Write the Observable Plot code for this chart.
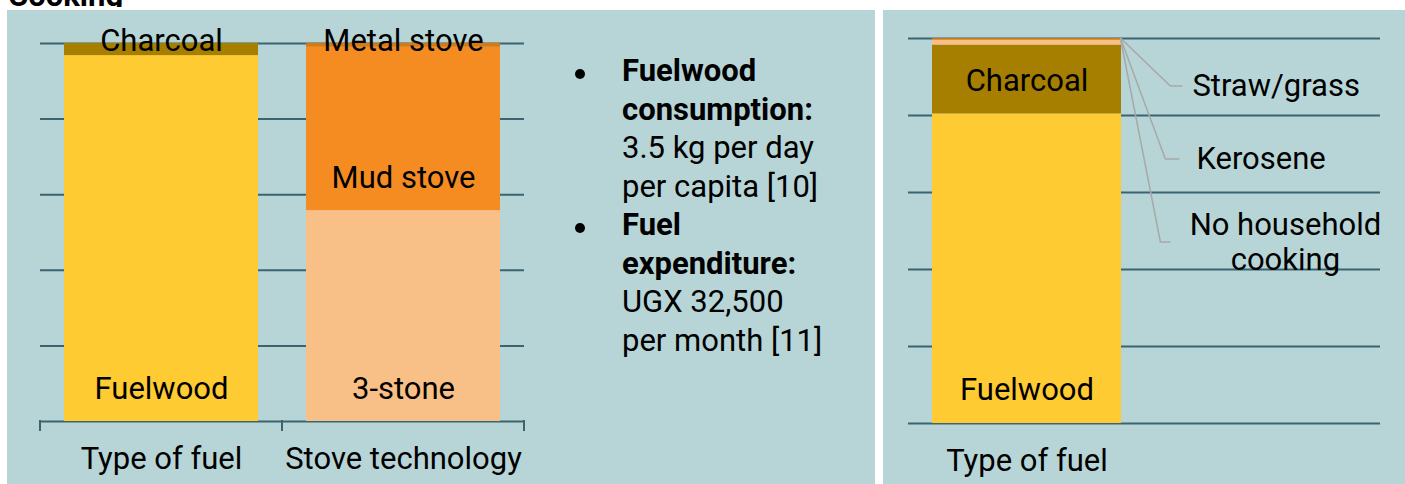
<!DOCTYPE html>
<html>
<head>
<meta charset="utf-8">
<script src="https://cdn.jsdelivr.net/npm/d3@7"></script>
<script src="https://cdn.jsdelivr.net/npm/@observablehq/plot@0.6"></script>
<style>
html, body { margin: 0; padding: 0; background: #fff; width: 1405px; height: 484px; overflow: hidden; font-family: Roboto, sans-serif; }
#titlebox { position: absolute; left: 8px; top: 0; width: 300px; height: 7px; overflow: hidden; z-index: 0; }
#title { position: absolute; left: 0; top: -19px; font-weight: bold; font-size: 31px; line-height: 30px; white-space: nowrap; color: #000; }
.panel { position: absolute; top: 10px; height: 474px; background: #b7d5d6; z-index: 1; }
#left { left: 7px; width: 868px; }
#right { left: 883px; width: 522px; }
.panel svg { position: absolute; left: 0; top: 0; }
#notes { position: absolute; left: 615px; top: 42.3px; font-size: 31px; line-height: 38.5px; color: #000; white-space: nowrap; }
.item { position: relative; }
.bul { position: absolute; left: -47px; top: 16.5px; width: 10px; height: 10px; border-radius: 50%; background: #000; }
</style>
</head>
<body>
<div id="titlebox"><div id="title">Cooking</div></div>
<div class="panel" id="left">
  <div id="notes">
    <div class="item"><span class="bul"></span><b>Fuelwood<br>consumption:</b><br>3.5 kg per day<br>per capita [10]</div>
    <div class="item"><span class="bul"></span><b>Fuel<br>expenditure:</b><br>UGX 32,500<br>per month [11]</div>
  </div>
</div>
<div class="panel" id="right"></div>
<script>
// ---- data ----
const leftCategories = ["Type of fuel", "Stove technology"];
const fuelTypes = ["Fuelwood", "Charcoal"];
const fuelShares = [96.8, 3.2];
const stoveTypes = ["3-stone", "Mud stove", "Metal stove"];
const stoveShares = [55.8, 43.2, 1.0];
const rightCategories = ["Type of fuel", ""];
const fuelTypes2 = ["Fuelwood", "Charcoal", "Straw/grass", "Kerosene", "No household cooking"];
const fuelShares2 = [80.4, 17.9, 1.2, 0.4, 0.1];
const yTicks = [0, 20, 40, 60, 80, 100];
const segmentTypes = ["Fuelwood", "Charcoal", "3-stone", "Mud stove", "Metal stove", "Straw/grass", "Kerosene", "No household cooking"];
const segmentColors = ["#fecb33", "#a67f00", "#f8bf86", "#f48c22", "#d9780f", "#f8bf86", "#f48c22", "#e07a14"];
const calloutLabels = ["Straw/grass", "Kerosene", "No household\ncooking"];

// ---- styles ----
const gridColor = "#3b6470";
const leaderColor = "#a8a8a8";
const FS = 31;
const style = { fontFamily: "Roboto, sans-serif", fontSize: FS + "px", background: "transparent", overflow: "visible", color: "#000" };

function stack(category, types, shares) {
  let acc = 0;
  return types.map((t, i) => {
    const lo = acc; acc += shares[i];
    return { category, type: t, lo, hi: acc };
  });
}

const leftRows = [
  ...stack(leftCategories[0], fuelTypes, fuelShares),
  ...stack(leftCategories[1], stoveTypes, stoveShares)
];
const rightRows = stack(rightCategories[0], fuelTypes2, fuelShares2);

const color = { domain: segmentTypes, range: segmentColors };

// rebuild the plot's band scale from its descriptor
function bandFrom(plot) {
  const d = plot.scale("x");
  return d3.scaleBand(d.domain, d.range)
    .paddingInner(d.paddingInner ?? 0.2)
    .paddingOuter(d.paddingOuter ?? 0.1)
    .align(d.align ?? 0.5);
}

const leftPlot = Plot.plot({
  width: 560, height: 474,
  marginLeft: 33, marginRight: 43, marginTop: 33, marginBottom: 63,
  style,
  x: { domain: leftCategories, paddingInner: 0.2, paddingOuter: 0.1, axis: null },
  y: { domain: [0, 100], axis: null },
  color,
  marks: [
    Plot.ruleY(yTicks, { stroke: gridColor, strokeWidth: 2 }),
    Plot.barY(leftRows, { x: "category", y1: "lo", y2: "hi", fill: "type" }),
    Plot.text(leftRows.filter(d => d.hi - d.lo >= 10), { x: "category", y: "lo", text: "type", dy: -32, fill: "#000", fontSize: FS }),
    Plot.text(leftRows.filter(d => d.hi - d.lo < 10), { x: "category", y: "hi", text: "type", dy: -2, fill: "#000", fontSize: FS }),
    Plot.text(leftCategories, { x: d => d, frameAnchor: "bottom", dy: 47, fill: "#000", fontSize: FS })
  ]
});
document.getElementById("left").prepend(leftPlot);

// band-edge ticks on the left baseline
{
  const x = bandFrom(leftPlot);
  const y = leftPlot.scale("y").apply;
  const bw = x.bandwidth();
  const x0 = x(leftCategories[0]), x1 = x(leftCategories[1]);
  const gap = x1 - (x0 + bw);
  const edges = [x0 - gap / 2, x0 + bw + gap / 2, x1 + bw + gap / 2];
  const y0 = y(0);
  const g = d3.select(leftPlot).append("g");
  for (const e of edges) {
    g.append("line").attr("x1", e).attr("x2", e).attr("y1", y0 - 1).attr("y2", y0 + 10)
      .attr("stroke", gridColor).attr("stroke-width", 2);
  }
}

const rightPlot = Plot.plot({
  width: 522, height: 474,
  marginLeft: 25, marginRight: 25, marginTop: 28, marginBottom: 61,
  style,
  x: { domain: rightCategories, paddingInner: 0.2, paddingOuter: 0.1, axis: null },
  y: { domain: [0, 100], axis: null },
  color,
  marks: [
    Plot.ruleY(yTicks, { stroke: gridColor, strokeWidth: 2 }),
    Plot.barY(rightRows, { x: "category", y1: "lo", y2: "hi", fill: "type" }),
    Plot.text(rightRows.filter(d => d.hi - d.lo >= 10), { x: "category", y: "lo", text: "type", dy: -33, fill: "#000", fontSize: FS }),
    Plot.text([rightCategories[0]], { x: d => d, frameAnchor: "bottom", dy: 47, fill: "#000", fontSize: FS })
  ]
});
document.getElementById("right").append(rightPlot);

// callouts for the small right-hand segments
{
  const x = bandFrom(rightPlot);
  const y = rightPlot.scale("y").apply;
  const cx = x(rightCategories[0]) + x.bandwidth();
  const cy = y(100);
  const layout = [
    { ex: 50, ey: 48, hx: 62, tx: 72, anchor: "start", lines: [48] },
    { ex: 45, ey: 121, hx: 59, tx: 76, anchor: "start", lines: [121] },
    { ex: 40, ey: 204, hx: 50, tx: 165, anchor: "middle", lines: [187, 222] }
  ];
  const g = d3.select(rightPlot).append("g");
  layout.forEach((l, i) => {
    g.append("path")
      .attr("d", `M${cx},${cy}L${cx + l.ex},${cy + l.ey}L${cx + l.hx},${cy + l.ey}`)
      .attr("fill", "none").attr("stroke", leaderColor).attr("stroke-width", 1.5);
    calloutLabels[i].split("\n").forEach((p, j) => {
      g.append("text").attr("x", cx + l.tx).attr("y", cy + l.lines[j]).attr("dy", "0.32em")
        .attr("text-anchor", l.anchor).attr("font-size", FS).attr("fill", "#000").text(p);
    });
  });
}
</script>
</body>
</html>
